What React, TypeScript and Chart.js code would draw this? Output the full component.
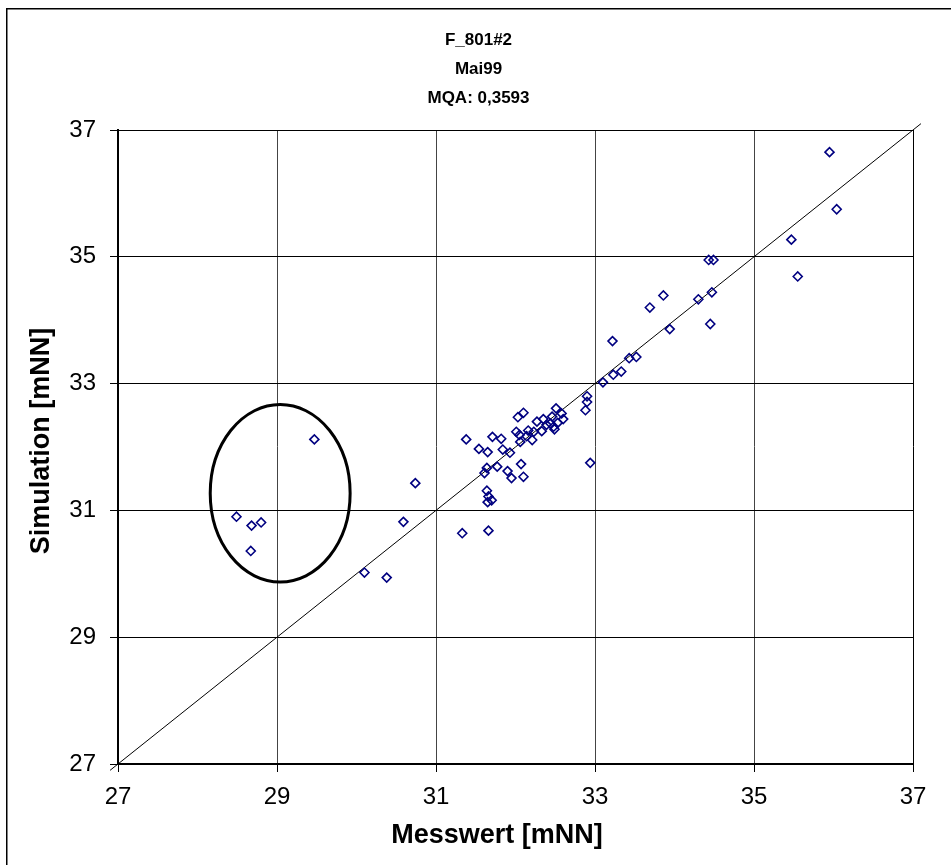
import { useEffect, useRef } from "react";
import { Chart, registerables } from "chart.js";

Chart.register(...registerables);

// Messwert (x) and Simulation (y) in mNN
const messwert = [
  29.47, 28.49, 28.68, 28.8, 28.67, 30.74, 30.59, 30.1, 30.38, 31.33,
  31.66, 33.1, 33.23, 33.33, 32.9, 32.9, 32.88, 32.94, 32.51, 32.58,
  32.6, 32.53, 32.46, 32.44, 32.48, 32.49, 32.35, 32.39, 32.27, 32.33,
  32.23, 32.16, 32.14, 32.21, 32.1, 32.03, 32.01, 32.05, 32.06, 31.71,
  31.82, 31.38, 31.54, 31.65, 31.84, 31.93, 31.64, 31.77, 31.61, 32.07,
  31.9, 31.95, 32.1, 31.64, 31.66, 31.7, 31.65, 33.22, 33.43, 33.52,
  33.94, 33.69, 33.86, 34.3, 34.47, 34.45, 35.95, 36.04, 35.47, 35.55,
  34.43, 34.49,
];
const simulation = [
  32.12, 30.9, 30.76, 30.81, 30.36, 31.43, 30.82, 30.02, 29.94, 30.64,
  30.68, 33.02, 33.14, 33.19, 32.8, 32.71, 32.58, 31.75, 32.61, 32.53,
  32.44, 32.38, 32.48, 32.37, 32.32, 32.28, 32.44, 32.35, 32.4, 32.25,
  32.24, 32.26, 32.17, 32.11, 32.54, 32.47, 32.24, 32.19, 32.08, 32.16,
  32.13, 32.12, 31.97, 31.92, 31.96, 31.91, 31.67, 31.69, 31.59, 31.73,
  31.62, 31.51, 31.53, 31.31, 31.22, 31.16, 31.13, 33.67, 33.4, 33.42,
  33.86, 34.2, 34.39, 34.33, 34.44, 33.94, 36.65, 35.75, 35.27, 34.69,
  34.95, 34.95,
];

// 1:1 reference line
const refLine = [26.9, 37.1];

const axisMin = 27;
const axisMax = 37;
const tickStep = 2;

const titleLines = ["F_801#2", "Mai99", "MQA: 0,3593"];
const xTitle = "Messwert [mNN]";
const yTitle = "Simulation [mNN]";

// highlighted outlier group (data coordinates)
const ellipseCenter = [29.04, 31.27];
const ellipseRadius = [0.88, 1.4];

const FONT = '"Liberation Sans", Arial, Helvetica, sans-serif';
const W = 945;
const H = 857;

export default function App() {
  const ref = useRef<HTMLCanvasElement>(null);

  useEffect(() => {
    const canvas = ref.current;
    if (!canvas) return;

    const framePlugin = {
      id: "frame",
      beforeDraw(chart: any) {
        const ctx = chart.ctx;
        ctx.save();
        ctx.fillStyle = "#ffffff";
        ctx.fillRect(0, 0, chart.width, chart.height);
        ctx.strokeStyle = "#000000";
        ctx.lineWidth = 1.5;
        ctx.strokeRect(0.75, 0.75, chart.width + 20, chart.height + 20);
        ctx.restore();
      },
    };

    const titlePlugin = {
      id: "multiTitle",
      afterDraw(chart: any) {
        const ctx = chart.ctx;
        ctx.save();
        ctx.fillStyle = "#000000";
        ctx.font = `bold 17px ${FONT}`;
        ctx.textAlign = "center";
        ctx.textBaseline = "middle";
        titleLines.forEach((t, i) => {
          ctx.fillText(t, chart.width / 2, 32 + i * 29);
        });
        // axis titles
        ctx.font = `bold 27px ${FONT}`;
        ctx.fillText(xTitle, 491, 828);
        ctx.translate(36, 433);
        ctx.rotate(-Math.PI / 2);
        ctx.fillText(yTitle, 0, 0);
        ctx.restore();
      },
    };

    const ellipsePlugin = {
      id: "ellipse",
      afterDatasetsDraw(chart: any) {
        const xs = chart.scales.x;
        const ys = chart.scales.y;
        const cx = xs.getPixelForValue(ellipseCenter[0]);
        const cy = ys.getPixelForValue(ellipseCenter[1]);
        const rx = Math.abs(xs.getPixelForValue(ellipseCenter[0] + ellipseRadius[0]) - cx);
        const ry = Math.abs(ys.getPixelForValue(ellipseCenter[1] + ellipseRadius[1]) - cy);
        const ctx = chart.ctx;
        ctx.save();
        ctx.strokeStyle = "#000000";
        ctx.lineWidth = 3;
        ctx.beginPath();
        ctx.ellipse(cx, cy, rx, ry, 0, 0, Math.PI * 2);
        ctx.stroke();
        ctx.restore();
      },
    };

    const points = messwert.map((x, i) => ({ x, y: simulation[i] }));

    const chart = new Chart(canvas, {
      type: "scatter",
      data: {
        datasets: [
          {
            type: "line",
            data: refLine.map((v) => ({ x: v, y: v })),
            borderColor: "#000000",
            borderWidth: 1,
            pointRadius: 0,
            fill: false,
            clip: false,
            order: 2,
          } as any,
          {
            data: points,
            pointStyle: "rectRot",
            pointRadius: 4.5,
            pointBorderWidth: 1.6,
            borderColor: "#000080",
            backgroundColor: "rgba(255,255,255,0)",
            order: 1,
          } as any,
        ],
      },
      options: {
        responsive: false,
        animation: false,
        events: [],
        layout: { padding: { top: 122, right: 38, left: 0, bottom: 0 } },
        plugins: {
          legend: { display: false },
          title: { display: false },
          tooltip: { enabled: false },
        },
        scales: {
          x: {
            type: "linear",
            min: axisMin,
            max: axisMax,
            ticks: {
              stepSize: tickStep,
              color: "#000000",
              font: { family: FONT, size: 24 },
              padding: 11,
              maxRotation: 0,
              autoSkip: false,
            },
            grid: {
              color: (c: any) => (c.tick && c.tick.value === axisMax ? "#000000" : "#444444"),
              lineWidth: 1,
              tickLength: 8,
              tickColor: "#000000",
            },
            border: { color: "#000000", width: 2 },
            title: { display: false },
            afterFit: (s: any) => {
              s.height = 101;
            },
          },
          y: {
            type: "linear",
            min: axisMin,
            max: axisMax,
            ticks: {
              stepSize: tickStep,
              color: "#000000",
              font: { family: FONT, size: 24 },
              padding: 14,
              autoSkip: false,
            },
            grid: {
              color: "#000000",
              lineWidth: 1,
              tickLength: 8,
              tickColor: "#000000",
            },
            border: { color: "#000000", width: 2 },
            title: { display: false },
            afterFit: (s: any) => {
              s.width = 112;
            },
          },
        },
      } as any,
      plugins: [framePlugin, titlePlugin, ellipsePlugin],
    });

    return () => chart.destroy();
  }, []);

  return (
    <div style={{ position: "fixed", left: 6, top: 8, width: W, height: H }}>
      <canvas ref={ref} width={W} height={H} style={{ display: "block", width: W, height: H }} />
    </div>
  );
}
